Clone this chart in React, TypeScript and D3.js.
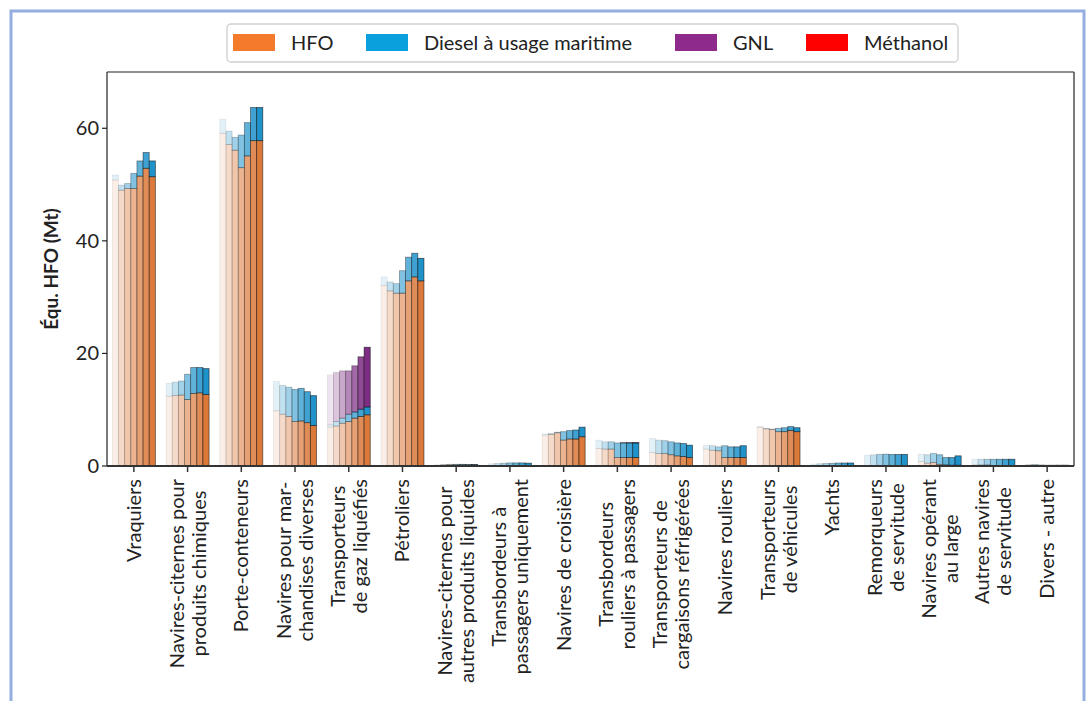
import React from "react";
import * as d3 from "d3";

const categories: string[] = [
  "Vraquiers",
  "Navires-citernes pour\nproduits chimiques",
  "Porte-conteneurs",
  "Navires pour mar-\nchandises diverses",
  "Transporteurs\nde gaz liquéfiés",
  "Pétroliers",
  "Navires-citernes pour\nautres produits liquides",
  "Transbordeurs à\npassagers uniquement",
  "Navires de croisière",
  "Transbordeurs\nrouliers à passagers",
  "Transporteurs de\ncargaisons réfrigérées",
  "Navires rouliers",
  "Transporteurs\nde véhicules",
  "Yachts",
  "Remorqueurs\nde servitude",
  "Navires opérant\nau large",
  "Autres navires\nde servitude",
  "Divers - autre",
];

const years = ["2012", "2013", "2014", "2015", "2016", "2017", "2018"];

const hfo: number[][] = [
  [50.8, 49.0, 49.3, 49.3, 51.5, 52.9, 51.4],
  [12.4, 12.5, 12.6, 11.8, 12.9, 13.0, 12.7],
  [59.1, 57.1, 56.1, 53.0, 55.1, 57.8, 57.8],
  [9.8, 9.2, 8.8, 7.9, 8.0, 7.7, 7.2],
  [6.9, 7.1, 7.6, 7.9, 8.5, 8.8, 9.1],
  [32.1, 31.1, 30.7, 30.7, 32.9, 33.6, 32.9],
  [0.15, 0.2, 0.25, 0.2, 0.2, 0.15, 0.15],
  [0.1, 0.1, 0.1, 0.05, 0.05, 0.05, 0.05],
  [5.5, 5.6, 5.9, 4.6, 4.8, 4.8, 5.2],
  [3.1, 3.0, 3.0, 1.5, 1.5, 1.5, 1.5],
  [2.4, 2.2, 2.2, 2.0, 1.8, 1.7, 1.5],
  [3.0, 2.8, 2.7, 1.5, 1.5, 1.5, 1.5],
  [6.9, 6.6, 6.5, 6.1, 6.1, 6.3, 6.1],
  [0.05, 0.05, 0.05, 0.03, 0.03, 0.03, 0.03],
  [0.1, 0.08, 0.08, 0.05, 0.05, 0.05, 0.05],
  [0.8, 0.5, 0.6, 0.3, 0.2, 0.15, 0.15],
  [0.2, 0.2, 0.2, 0.1, 0.1, 0.1, 0.1],
  [0.2, 0.2, 0.1, 0.05, 0.05, 0.05, 0.05],
];

const diesel: number[][] = [
  [0.9, 0.9, 0.9, 2.7, 2.7, 2.8, 2.8],
  [2.3, 2.4, 2.5, 4.5, 4.6, 4.5, 4.6],
  [2.5, 2.4, 2.3, 5.8, 5.9, 5.9, 5.9],
  [5.2, 5.1, 5.2, 5.7, 5.8, 5.5, 5.3],
  [0.4, 0.8, 0.9, 1.3, 1.1, 1.3, 1.4],
  [1.5, 1.6, 1.7, 4.0, 4.2, 4.2, 4.0],
  [0.05, 0.05, 0.05, 0.1, 0.1, 0.1, 0.1],
  [0.3, 0.35, 0.4, 0.5, 0.5, 0.5, 0.45],
  [0.2, 0.2, 0.1, 1.5, 1.5, 1.6, 1.7],
  [1.5, 1.3, 1.3, 2.6, 2.6, 2.6, 2.6],
  [2.5, 2.4, 2.3, 2.3, 2.3, 2.3, 2.2],
  [0.7, 0.8, 0.7, 2.1, 1.9, 1.9, 2.1],
  [0.1, 0.1, 0.05, 0.6, 0.7, 0.7, 0.7],
  [0.3, 0.35, 0.4, 0.45, 0.5, 0.5, 0.5],
  [1.8, 1.9, 2.0, 2.05, 2.0, 2.0, 2.0],
  [1.3, 1.5, 1.65, 1.7, 1.3, 1.35, 1.65],
  [1.0, 1.0, 1.0, 1.1, 1.1, 1.1, 1.1],
  [0.1, 0.1, 0.1, 0.1, 0.1, 0.1, 0.1],
];

const gnl: number[][] = [
  [0, 0, 0, 0, 0, 0, 0],
  [0, 0, 0, 0, 0, 0, 0],
  [0, 0, 0, 0, 0, 0, 0],
  [0, 0, 0, 0, 0, 0, 0],
  [8.9, 8.7, 8.4, 7.7, 8.2, 9.3, 10.6],
  [0, 0, 0, 0, 0, 0, 0],
  [0, 0, 0, 0, 0, 0, 0],
  [0, 0, 0, 0, 0, 0, 0],
  [0, 0, 0, 0, 0, 0, 0],
  [0, 0, 0, 0, 0.05, 0.05, 0.05],
  [0, 0, 0, 0, 0, 0, 0],
  [0, 0, 0, 0, 0, 0, 0],
  [0, 0, 0, 0, 0, 0, 0],
  [0, 0, 0, 0, 0, 0, 0],
  [0, 0, 0, 0, 0, 0, 0],
  [0, 0, 0, 0, 0, 0, 0],
  [0, 0, 0, 0, 0, 0, 0],
  [0, 0, 0, 0, 0, 0, 0],
];

const methanol: number[][] = categories.map(() => [0, 0, 0, 0, 0, 0, 0]);

const seriesNames = ["HFO", "Diesel à usage maritime", "GNL", "Méthanol"];
const legendColors = ["#F47A2C", "#0AA0DE", "#8E2A8C", "#FF0000"];
const barColors = ["#DB793A", "#1F92CA", "#7D2D84", "#FF0000"];
const yTicks = [0, 20, 40, 60];

const FONT = "Lato, 'Open Sans', sans-serif";

export default function App() {
  const W = 1092;
  const H = 701;
  const left = 107;
  const right = 1074;
  const top = 72;
  const bottom = 466;

  const x = d3.scaleBand<number>().domain(d3.range(categories.length)).range([left, right]).padding(0);
  const bw = x.bandwidth();
  const inner = d3
    .scaleBand<number>()
    .domain(d3.range(years.length))
    .range([bw * 0.1, bw * 0.9])
    .padding(0);
  const y = d3.scaleLinear().domain([0, 70]).range([bottom, top]);
  const alpha = d3.scaleLinear().domain([0, years.length - 1]).range([0.13, 1]);

  const data = [hfo, diesel, gnl, methanol];

  const bars: React.ReactNode[] = [];
  categories.forEach((_, ci) => {
    years.forEach((_, yi) => {
      let base = 0;
      data.forEach((series, si) => {
        const v = series[ci][yi];
        if (v <= 0) return;
        const y0 = y(base);
        const y1 = y(base + v);
        base += v;
        const a = alpha(yi);
        bars.push(
          <rect
            key={`${ci}-${yi}-${si}`}
            x={(x(ci) as number) + (inner(yi) as number)}
            y={y1}
            width={inner.bandwidth()}
            height={Math.max(0, y0 - y1)}
            fill={barColors[si]}
            fillOpacity={a}
            stroke="#000"
            strokeOpacity={a * 0.6}
            strokeWidth={0.8}
          />
        );
      });
    });
  });

  const fs = 20;
  const canvas = typeof document !== "undefined" ? document.createElement("canvas") : null;
  const ctx = canvas ? canvas.getContext("2d") : null;
  if (ctx) ctx.font = `${fs}px Lato`;
  const measure = (s: string) => (ctx ? ctx.measureText(s).width : s.length * 10);

  const lineH = 22;
  const labelTop = 479;

  const legendItems = [
    { x: 233, label: seriesNames[0] },
    { x: 366, label: seriesNames[1] },
    { x: 675, label: seriesNames[2] },
    { x: 806, label: seriesNames[3] },
  ];

  return (
    <svg
      width={W}
      height={H}
      style={{ position: "absolute", left: 0, top: 0, background: "#fff" }}
      fontFamily={FONT}
    >
      <rect x={11} y={11} width={1073} height={720} fill="none" stroke="#94AEDF" strokeWidth={3} />

      {bars}

      <line x1={left} x2={left} y1={top} y2={bottom} stroke="#222" strokeWidth={1.2} />
      <line x1={right} x2={right} y1={top} y2={bottom} stroke="#222" strokeWidth={1.2} />
      <line x1={left} x2={right} y1={top} y2={top} stroke="#222" strokeWidth={1.2} />
      <line x1={left} x2={right} y1={bottom} y2={bottom} stroke="#333" strokeWidth={2.2} />

      {yTicks.map((t) => (
        <g key={t}>
          <line x1={left - 5} x2={left} y1={y(t)} y2={y(t)} stroke="#222" strokeWidth={1.2} />
          <text x={left - 8} y={y(t)} dy="0.35em" textAnchor="end" fontSize={fs} fill="#222">
            {t}
          </text>
        </g>
      ))}

      <text
        transform={`translate(58, ${(top + bottom) / 2}) rotate(-90)`}
        textAnchor="middle"
        fontSize={19}
        fontWeight="bold"
        fill="#222"
      >
        Équ. HFO (Mt)
      </text>

      {categories.map((c, ci) => {
        const cx = (x(ci) as number) + bw / 2;
        const lines = c.split("\n");
        const maxW = Math.max(...lines.map(measure));
        const n = lines.length;
        return (
          <g key={c}>
            <line x1={cx} x2={cx} y1={bottom} y2={bottom + 6} stroke="#333" strokeWidth={1.5} />
            <g transform={`translate(${cx}, ${labelTop + maxW / 2}) rotate(-90)`}>
              {lines.map((l, li) => (
                <text
                  key={li}
                  x={0}
                  y={(li - (n - 1) / 2) * lineH}
                  dy="0.35em"
                  textAnchor="middle"
                  fontSize={fs}
                  fill="#222"
                >
                  {l}
                </text>
              ))}
            </g>
          </g>
        );
      })}

      <rect x={227} y={24} width={731} height={38} rx={4} fill="#fff" stroke="#cfcfcf" strokeWidth={1.3} />
      {legendItems.map((it, i) => (
        <g key={it.label}>
          <rect x={it.x} y={34} width={42} height={17} fill={legendColors[i]} />
          <text x={it.x + 58} y={43} dy="0.35em" fontSize={fs} fill="#222">
            {it.label}
          </text>
        </g>
      ))}
    </svg>
  );
}
